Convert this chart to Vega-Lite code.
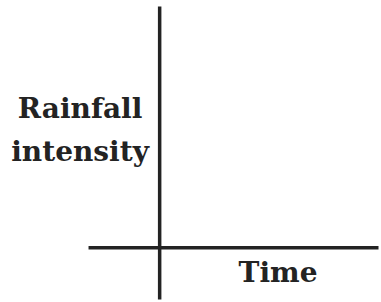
{
  "$schema": "https://vega.github.io/schema/vega-lite/v6.json",
  "width": 381,
  "height": 302,
  "padding": 0,
  "autosize": {"type": "fit", "contains": "padding"},
  "background": "white",
  "config": {"view": {"stroke": null}},
  "datasets": {
    "axes": [
      {"name": "vertical", "x": 0, "x2": 0, "y": -52, "y2": 243},
      {"name": "horizontal", "x": -71.5, "x2": 220, "y": 0, "y2": 0}
    ],
    "labels": [
      {"text": "Rainfall", "x": -80, "y": 139},
      {"text": "intensity", "x": -80, "y": 95},
      {"text": "Time", "x": 119, "y": -26}
    ]
  },
  "layer": [
    {
      "data": {"name": "axes"},
      "mark": {"type": "rule", "stroke": "#232323", "strokeWidth": 3.5},
      "encoding": {
        "x": {"field": "x", "type": "quantitative", "scale": {"domain": [-160.5, 220.5], "nice": false, "zero": false}, "axis": null},
        "x2": {"field": "x2"},
        "y": {"field": "y", "type": "quantitative", "scale": {"domain": [-52.5, 249.5], "nice": false, "zero": false}, "axis": null},
        "y2": {"field": "y2"}
      }
    },
    {
      "data": {"name": "labels"},
      "mark": {"type": "text", "font": "DejaVu Serif", "fontWeight": "bold", "fontSize": 28, "fill": "#232323", "align": "center", "baseline": "middle"},
      "encoding": {
        "x": {"field": "x", "type": "quantitative", "scale": {"domain": [-160.5, 220.5], "nice": false, "zero": false}, "axis": null},
        "y": {"field": "y", "type": "quantitative", "scale": {"domain": [-52.5, 249.5], "nice": false, "zero": false}, "axis": null},
        "text": {"field": "text"}
      }
    }
  ]
}
